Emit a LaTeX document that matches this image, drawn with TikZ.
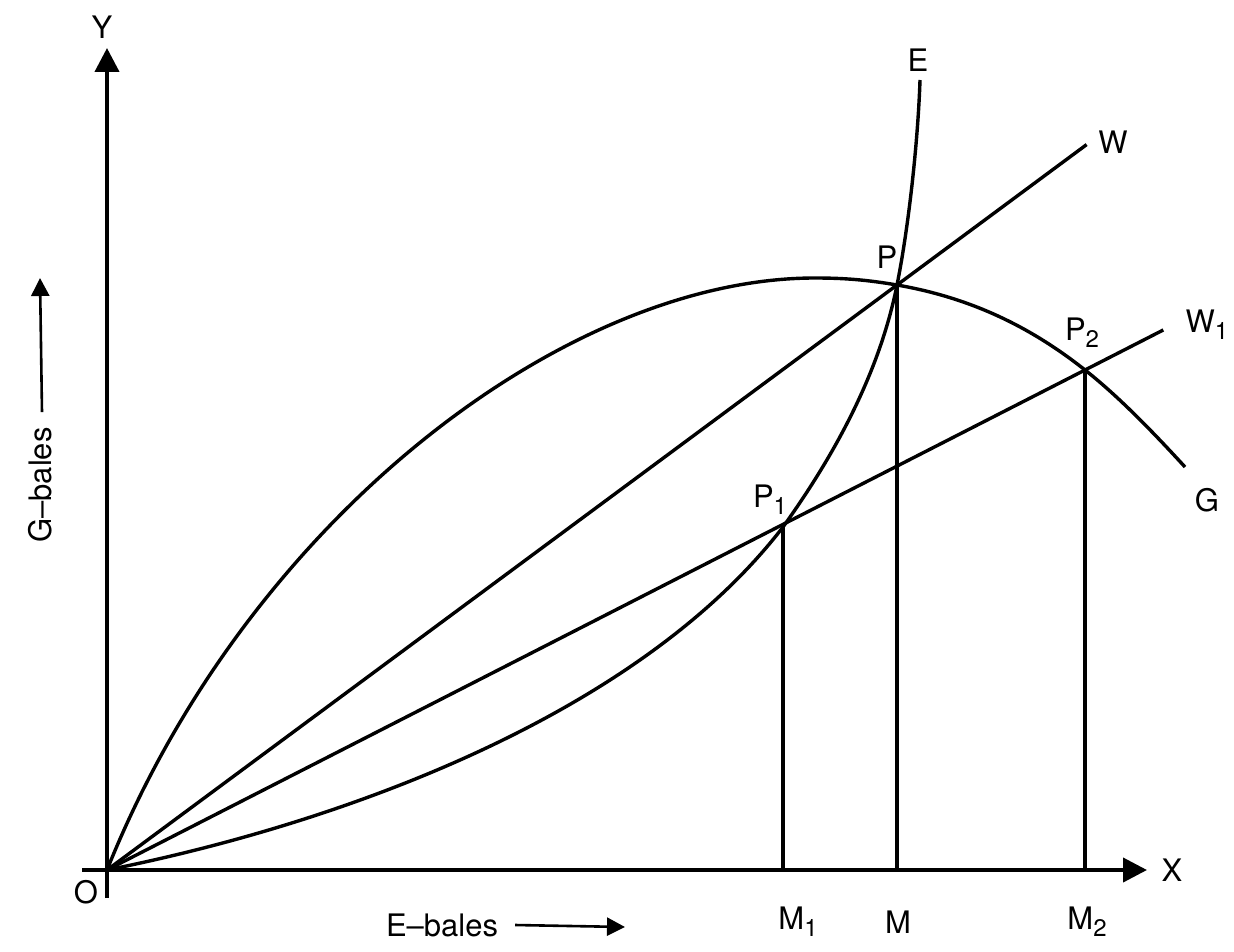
\documentclass[tikz,border=0pt]{standalone}
\usepackage{fontspec}
\setmainfont{TeX Gyre Heros}
\usetikzlibrary{arrows.meta,calc}

\newcommand{\lowsub}[1]{\raisebox{-0.45ex}{\fontsize{12}{12}\selectfont #1}}

\begin{document}
\begin{tikzpicture}[x=0.5pt,y=-0.5pt,
    curve/.style={line width=1.7pt},
    axis/.style={line width=2pt,-{Triangle[length=12pt,width=12pt]}},
    hint/.style={line width=1.3pt,-{Triangle[length=9pt,width=9pt]}},
    every node/.style={font=\fontsize{15.5}{18}\selectfont}]
    \useasboundingbox (0,0) rectangle (1234,951);

    % key points
    \coordinate (O) at (107,870);
    \coordinate (P) at (897,285);
    \coordinate (P1) at (783,527);
    \coordinate (P2) at (1085,370);
    \coordinate (M) at (P |- O);
    \coordinate (M1) at (P1 |- O);
    \coordinate (M2) at (P2 |- O);
    \coordinate (Wend) at ($(O)!1.24!(P)$);
    \coordinate (W1end) at ($(O)!1.08!(P2)$);
    \coordinate (Etop) at (920,80);
    \coordinate (Gtop) at (815,278);
    \coordinate (Gend) at (1185,467);

    % axes
    \coordinate (xstart) at (82,870);
    \coordinate (xend) at (1147,870);
    \coordinate (ystart) at (107,898);
    \coordinate (yend) at (107,48);
    \draw[axis] (xstart) -- (xend);
    \draw[axis] (ystart) -- (yend);
    \node (labX) at (1172,870) {X};
    \node (labY) at (102,27) {Y};
    \node (labO) at (86,892) {O};

    % G curve
    \draw[curve] (O) .. controls (247,520) and (565,278) .. (Gtop)
        .. controls (845,278) and (868,280) .. (P)
        .. controls (960,296) and (1022,320) .. (P2)
        .. controls (1118,396) and (1152,431) .. (Gend);
    % E curve
    \draw[curve] (O) .. controls (357,820) and (643,709) .. (P1)
        .. controls (823,471) and (877,385) .. (P)
        .. controls (909,225) and (918,140) .. (Etop);

    % rays W and W1
    \draw[curve] (O) -- (Wend);
    \draw[curve] (O) -- (W1end);

    % verticals
    \draw[curve] (P1) -- (M1);
    \draw[curve] (P) -- (M);
    \draw[curve] (P2) -- (M2);

    % labels
    \node (labE) at (918,60) {E};
    \node (labG) at (1207,500) {G};
    \node (labW) at (1113,142) {W};
    \node (labW1) at (1207,325) {W\lowsub{1}};
    \node (labP) at (887,257) {P};
    \node (labP1) at (770,500) {P\lowsub{1}};
    \node (labP2) at (1082,333) {P\lowsub{2}};
    \node (labM1) at (798,922) {M\lowsub{1}};
    \node (labM) at (898,922) {M};
    \node (labM2) at (1087,922) {M\lowsub{2}};

    % axis names
    \node (ebales) at (442,925) {E--bales};
    \coordinate (etip) at (625,927);
    \draw[hint] ([xshift=5pt]ebales.east) -- (etip);
    \node[rotate=90] (gbales) at (40,485) {G--bales};
    \coordinate (gtip) at (40,278);
    \draw[hint] ([xshift=1pt,yshift=4pt]gbales.east) -- (gtip);
\end{tikzpicture}
\end{document}
